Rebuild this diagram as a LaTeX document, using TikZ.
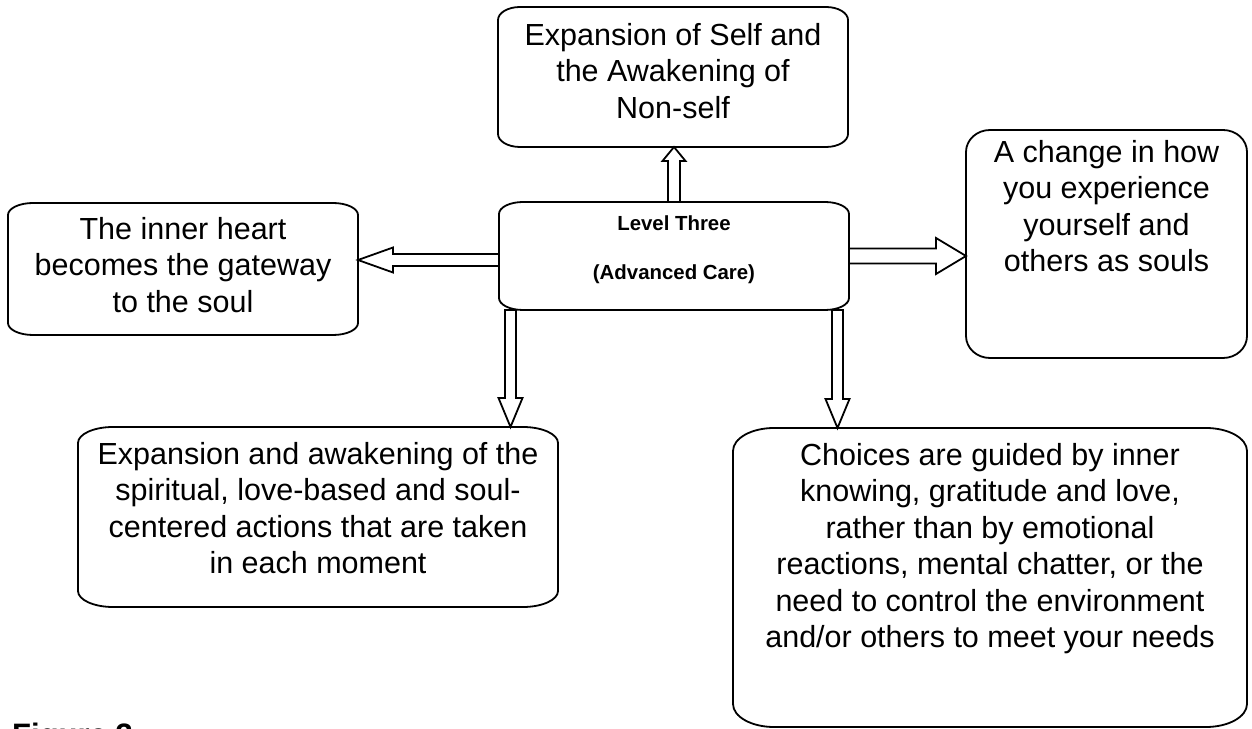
\documentclass[tikz,border=0pt]{standalone}
\usepackage{fontspec}
\setmainfont{Liberation Sans}
\usetikzlibrary{calc}
\tikzset{
  boxarea/.style={rectangle, inner sep=0pt, outer sep=0pt},
  boxline/.style={draw=black, line width=1.8pt},
  bigtext/.style={align=center, inner sep=0pt, anchor=north, font=\fontsize{30.5}{36.5}\selectfont},
  smalltext/.style={align=center, inner sep=0pt, anchor=north, font=\bfseries\fontsize{20.4}{49}\selectfont},
  blockarrowline/.style={draw=black, fill=white, line width=1.8pt, line join=miter},
}
\newcommand{\roundedoutline}[3]{%
  \draw[boxline] ($(#1.north west)+(#2pt,0)$) -- ($(#1.north east)+(-#2pt,0)$)
    arc[start angle=90, end angle=0, x radius=#2pt, y radius=#3pt]
    -- ($(#1.south east)+(0,#3pt)$)
    arc[start angle=0, end angle=-90, x radius=#2pt, y radius=#3pt]
    -- ($(#1.south west)+(#2pt,0)$)
    arc[start angle=-90, end angle=-180, x radius=#2pt, y radius=#3pt]
    -- ($(#1.north west)+(0,-#3pt)$)
    arc[start angle=180, end angle=90, x radius=#2pt, y radius=#3pt] -- cycle;}
\newcommand{\blockarrow}[5]{%
  \coordinate (ba-h) at ($(#2)!#5!(#1)$);
  \draw[blockarrowline] ($(#1)!#3!90:(#2)$) -- ($(ba-h)!#3!90:(#2)$) -- ($(ba-h)!#4!90:(#2)$)
    -- (#2) -- ($(ba-h)!#4!-90:(#2)$) -- ($(ba-h)!#3!-90:(#2)$) -- ($(#1)!#3!-90:(#2)$) -- cycle;}
\begin{document}
\begin{tikzpicture}[x=1pt, y=1pt]
\fill[white] (0,0) rectangle (1252,728);
\clip (0,0) rectangle (1252,728);
% box areas
\node[boxarea, minimum width=350pt, minimum height=140pt] (top) at (673,651) {};
\node[boxarea, minimum width=350pt, minimum height=108pt] (center) at (674,472) {};
\node[boxarea, minimum width=350pt, minimum height=132pt] (left) at (183,459) {};
\node[boxarea, minimum width=281pt, minimum height=228pt] (right) at (1106.5,484) {};
\node[boxarea, minimum width=480pt, minimum height=180pt] (bl) at (318,211) {};
\node[boxarea, minimum width=514pt, minimum height=299pt] (br) at (990,150.5) {};
% outlines
\roundedoutline{top}{22}{13}
\roundedoutline{center}{24}{12}
\roundedoutline{left}{25}{12}
\roundedoutline{right}{24}{22}
\roundedoutline{bl}{35}{16}
\roundedoutline{br}{41}{23}
% texts
\node[bigtext] (top-t) at (673,707) {\rule{0pt}{24pt}Expansion of Self and\\the Awakening of\\Non-self};
\node[smalltext] (center-t) at (674,515) {\rule{0pt}{17pt}Level Three\\(Advanced Care)};
\node[bigtext] (left-t) at (183,513) {\rule{0pt}{24pt}The inner heart\\becomes the gateway\\to the soul};
\node[bigtext] (right-t) at (1106.5,590) {\rule{0pt}{24pt}A change in how\\you experience\\yourself and\\others as souls};
\node[bigtext] (bl-t) at (318,288) {\rule{0pt}{24pt}Expansion and awakening of the\\spiritual, love-based and soul-\\centered actions that are taken\\in each moment};
\node[bigtext] (br-t) at (990,287) {\rule{0pt}{24pt}Choices are guided by inner\\knowing, gratitude and love,\\rather than by emotional\\reactions, mental chatter, or the\\need to control the environment\\and/or others to meet your needs};
\node[anchor=base west, inner sep=0pt, font=\bfseries\fontsize{31}{36}\selectfont] (fig) at (12,-17) {Figure 3};
% arrows
\coordinate (up-s) at (center.north);
\coordinate (up-e) at (center.north |- top.south);
\blockarrow{up-s}{up-e}{6pt}{11.5pt}{14pt}
\coordinate (lf-s) at ($(center.west)+(0,-4pt)$);
\coordinate (lf-e) at (lf-s -| left.east);
\blockarrow{lf-s}{lf-e}{6pt}{12.5pt}{35pt}
\coordinate (rt-s) at (center.east);
\coordinate (rt-e) at (rt-s -| right.west);
\blockarrow{rt-s}{rt-e}{7.5pt}{18pt}{30pt}
\coordinate (d1-s) at ($(center.south west)+(11.5pt,0)$);
\coordinate (d1-e) at (d1-s |- bl.north);
\blockarrow{d1-s}{d1-e}{5.5pt}{12pt}{29pt}
\coordinate (d2-s) at ($(center.south east)+(-11.5pt,0)$);
\coordinate (d2-e) at (d2-s |- br.north);
\blockarrow{d2-s}{d2-e}{5.5pt}{12pt}{29pt}
\end{tikzpicture}
\end{document}
